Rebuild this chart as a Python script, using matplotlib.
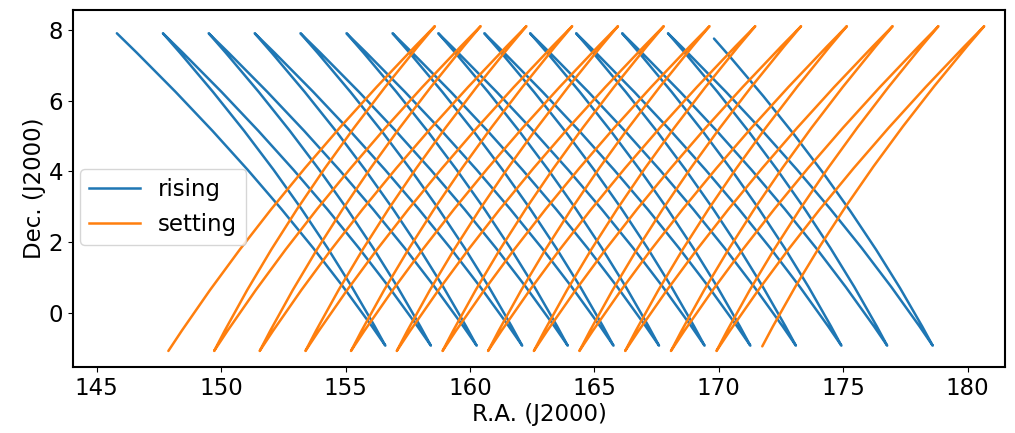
import matplotlib
matplotlib.use("Agg")
import matplotlib.pyplot as plt
from matplotlib.path import Path
from matplotlib.patches import PathPatch
from matplotlib.lines import Line2D

# rising tracks: top turning points (R.A., Dec) and bottom turning points
blue_top_ra = [145.81, 147.66, 149.50, 151.35, 153.19, 155.04, 156.89,
               158.73, 160.58, 162.42, 164.27, 166.12, 167.96, 169.81]
blue_top_dec = [7.9, 7.9, 7.9, 7.9, 7.9, 7.9, 7.9,
                7.9, 7.9, 7.9, 7.9, 7.9, 7.9, 7.75]
blue_bot_ra = [156.60, 158.43, 160.27, 162.10, 163.93, 165.77, 167.60,
               169.43, 171.27, 173.10, 174.93, 176.77, 178.60]
blue_bot_dec = [-0.92, -0.92, -0.92, -0.92, -0.92, -0.92, -0.92,
                -0.92, -0.92, -0.92, -0.92, -0.92, -0.92]

# setting tracks
orange_bot_ra = [147.88, 149.72, 151.55, 153.39, 155.22, 157.06, 158.90,
                 160.73, 162.57, 164.40, 166.24, 168.08, 169.91, 171.75]
orange_bot_dec = [-1.07, -1.07, -1.07, -1.07, -1.07, -1.07, -1.07,
                  -1.07, -1.07, -1.07, -1.07, -1.07, -1.07, -0.94]
orange_top_ra = [158.59, 160.43, 162.27, 164.11, 165.95, 167.79, 169.63,
                 171.47, 173.31, 175.15, 176.99, 178.83, 180.67]
orange_top_dec = [8.1, 8.1, 8.1, 8.1, 8.1, 8.1, 8.1,
                  8.1, 8.1, 8.1, 8.1, 8.1, 8.1]


def zigzag(a_ra, a_dec, b_ra, b_dec):
    # alternate a0, b0, a1, b1, ...
    ra, dec = [], []
    for i in range(len(a_ra)):
        ra.append(a_ra[i])
        dec.append(a_dec[i])
        if i < len(b_ra):
            ra.append(b_ra[i])
            dec.append(b_dec[i])
    return ra, dec


def bent_path(ra, dec, bend):
    # each leg is a quadratic bezier, control point shifted in R.A.
    verts = [(ra[0], dec[0])]
    codes = [Path.MOVETO]
    for i in range(1, len(ra)):
        cx = (ra[i - 1] + ra[i]) / 2 + bend
        cy = (dec[i - 1] + dec[i]) / 2
        verts += [(cx, cy), (ra[i], dec[i])]
        codes += [Path.CURVE3, Path.CURVE3]
    return Path(verts, codes)


fig, ax = plt.subplots(figsize=(10.15, 4.33), dpi=100)
fig.subplots_adjust(left=0.072, right=0.990, top=0.977, bottom=0.152)

lw = 1.8
rise_ra, rise_dec = zigzag(blue_top_ra, blue_top_dec, blue_bot_ra, blue_bot_dec)
set_ra, set_dec = zigzag(orange_bot_ra, orange_bot_dec, orange_top_ra, orange_top_dec)

ax.add_patch(PathPatch(bent_path(rise_ra, rise_dec, 1.1), fill=False,
                       edgecolor='#1f77b4', lw=lw, joinstyle='round', capstyle='round'))
ax.add_patch(PathPatch(bent_path(set_ra, set_dec, -1.1), fill=False,
                       edgecolor='#ff7f0e', lw=lw, joinstyle='round', capstyle='round'))

ax.autoscale_view()
ax.set_xlim(144.05, 181.5)

handles = [Line2D([], [], color='#1f77b4', lw=lw, label='rising'),
           Line2D([], [], color='#ff7f0e', lw=lw, label='setting')]
ax.legend(handles=handles, loc='lower left', bbox_to_anchor=(0.0075, 0.342),
          borderaxespad=0, fontsize=16.5, handlelength=2.2)

ax.set_xlabel('R.A. (J2000)', fontsize=16.5, labelpad=2)
ax.set_ylabel('Dec. (J2000)', fontsize=16.5, labelpad=2)
ax.tick_params(labelsize=16.5)
for s in ax.spines.values():
    s.set_linewidth(1.5)

fig.savefig('out.png', dpi=100)
